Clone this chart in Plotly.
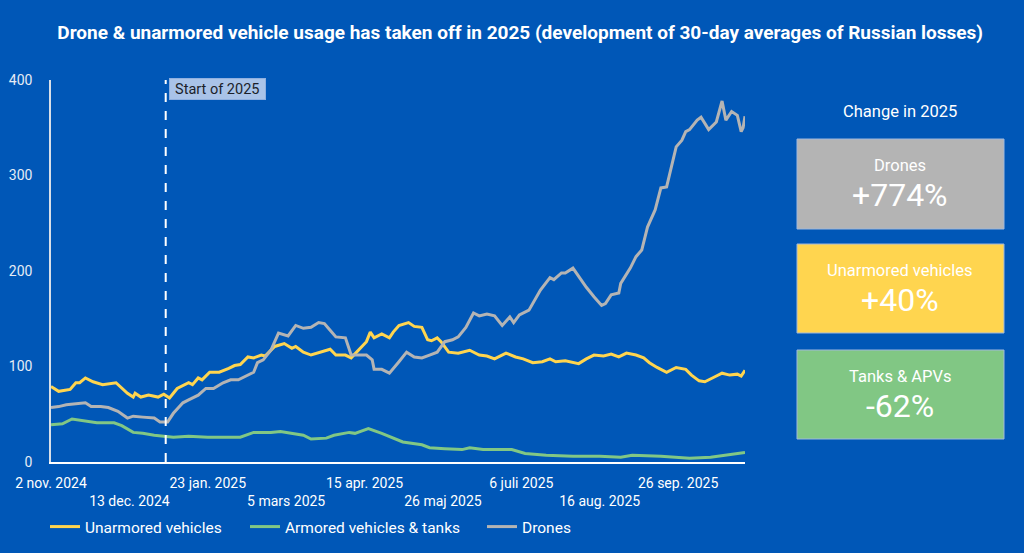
import plotly.graph_objects as go

# ---------------- data ----------------
unarmored_dates = ["2024-11-02","2024-11-06","2024-11-12","2024-11-15","2024-11-17","2024-11-20","2024-11-24","2024-11-29",
    "2024-12-06","2024-12-08","2024-12-12","2024-12-15","2024-12-16","2024-12-19","2024-12-23","2024-12-28","2024-12-31",
    "2025-01-03","2025-01-07","2025-01-13","2025-01-15","2025-01-18","2025-01-20","2025-01-24","2025-01-29",
    "2025-02-03","2025-02-06","2025-02-09","2025-02-13","2025-02-16","2025-02-20","2025-02-22","2025-02-27",
    "2025-03-04","2025-03-08","2025-03-10","2025-03-14","2025-03-18","2025-03-23","2025-03-28","2025-03-31",
    "2025-04-05","2025-04-08","2025-04-12","2025-04-16","2025-04-18","2025-04-20","2025-04-24","2025-04-28","2025-04-30",
    "2025-05-03","2025-05-08","2025-05-11","2025-05-15","2025-05-18","2025-05-20","2025-05-23","2025-05-25","2025-05-29",
    "2025-06-03","2025-06-09","2025-06-14","2025-06-18","2025-06-22","2025-06-28",
    "2025-07-03","2025-07-07","2025-07-12","2025-07-17","2025-07-21","2025-07-24","2025-07-29",
    "2025-08-02","2025-08-05","2025-08-09","2025-08-13","2025-08-18","2025-08-22","2025-08-26","2025-08-30",
    "2025-09-04","2025-09-08","2025-09-11","2025-09-15","2025-09-20","2025-09-25","2025-09-30",
    "2025-10-03","2025-10-07","2025-10-10","2025-10-15","2025-10-19","2025-10-23","2025-10-27","2025-10-29","2025-10-31"]
unarmored_values = [79,74,76,83,83,88,84,81,
    83,79,72,68,72,68,70,68,71,
    67,77,83,81,88,86,94,94,
    98,101,102,110,109,112,111,121,
    124,119,121,115,112,115,118,112,
    112,109,117,126,136,130,134,130,136,
    143,146,142,141,128,127,130,126,115,
    114,117,112,111,108,114,
    110,108,104,105,108,105,106,
    104,103,108,112,111,113,110,114,
    112,109,104,99,94,99,97,
    91,85,84,89,93,91,92,90,96]

armored_dates = ["2024-11-02","2024-11-08","2024-11-13","2024-11-19","2024-11-26","2024-12-05","2024-12-09","2024-12-15",
    "2024-12-20","2024-12-26","2025-01-02","2025-01-05","2025-01-13","2025-01-23","2025-02-03","2025-02-09","2025-02-16",
    "2025-02-25","2025-03-02","2025-03-09","2025-03-14","2025-03-18","2025-03-26","2025-03-30","2025-04-07","2025-04-10",
    "2025-04-17","2025-04-24","2025-05-05","2025-05-15","2025-05-19","2025-05-27","2025-06-05","2025-06-09","2025-06-16",
    "2025-06-24","2025-07-01","2025-07-08","2025-07-19","2025-08-02","2025-08-16","2025-08-27","2025-09-02","2025-09-17",
    "2025-10-02","2025-10-13","2025-10-20","2025-10-31"]
armored_values = [39,40,45,43,41,41,38,31,
    30,28,27,26,27,26,26,26,31,
    31,32,30,28,24,25,28,31,30,
    35,30,21,18,15,14,13,15,13,
    13,13,9,7,6,6,5,7,6,
    4,5,7,10]

drones_dates = ["2024-11-02","2024-11-06","2024-11-10","2024-11-15","2024-11-20","2024-11-23","2024-11-28","2024-12-02",
    "2024-12-07","2024-12-12","2024-12-15","2024-12-20","2024-12-26","2024-12-29","2025-01-02","2025-01-05","2025-01-10",
    "2025-01-13","2025-01-18","2025-01-22","2025-01-26","2025-01-31","2025-02-04","2025-02-08","2025-02-11","2025-02-16",
    "2025-02-18","2025-02-21","2025-02-25","2025-03-01","2025-03-06","2025-03-10","2025-03-14","2025-03-18","2025-03-22",
    "2025-03-25","2025-03-28","2025-03-31","2025-04-05","2025-04-08","2025-04-12","2025-04-16","2025-04-19","2025-04-20",
    "2025-04-24","2025-04-28","2025-05-03","2025-05-07","2025-05-11","2025-05-15","2025-05-19","2025-05-23","2025-05-27",
    "2025-05-31","2025-06-03","2025-06-07","2025-06-11","2025-06-14","2025-06-18","2025-06-22","2025-06-26","2025-06-30",
    "2025-07-02","2025-07-05","2025-07-10","2025-07-13","2025-07-16","2025-07-21","2025-07-23","2025-07-27","2025-07-29",
    "2025-08-02","2025-08-06","2025-08-09","2025-08-13","2025-08-17","2025-08-19","2025-08-22","2025-08-26","2025-08-27",
    "2025-09-01","2025-09-04","2025-09-07","2025-09-10","2025-09-14","2025-09-17","2025-09-20","2025-09-23","2025-09-25",
    "2025-09-28","2025-09-30","2025-10-02","2025-10-06","2025-10-08","2025-10-12","2025-10-16","2025-10-19","2025-10-21",
    "2025-10-24","2025-10-27","2025-10-29","2025-10-30","2025-10-31"]
drones_values = [57,58,60,61,62,58,58,57,
    53,46,48,47,46,42,42,51,62,
    65,70,77,77,83,86,86,89,94,
    104,107,117,135,132,143,140,141,146,
    145,138,131,130,112,112,112,107,97,
    97,93,105,115,110,109,112,115,126,
    128,131,141,156,153,155,153,143,152,
    146,154,159,170,180,193,191,198,198,
    203,191,183,173,164,166,175,177,187,
    203,215,222,246,264,287,288,314,330,
    337,346,348,358,361,348,356,378,358,
    367,363,346,350,362]

tick_dates = ["2024-11-02","2024-12-13","2025-01-23","2025-03-05","2025-04-15",
              "2025-05-26","2025-07-06","2025-08-16","2025-09-26"]
tick_labels = ["2 nov. 2024","13 dec. 2024","23 jan. 2025","5 mars 2025","15 apr. 2025",
               "26 maj 2025","6 juli 2025","16 aug. 2025","26 sep. 2025"]

change_labels = ["Drones", "Unarmored vehicles", "Tanks & APVs"]
change_values = ["+774%", "+40%", "-62%"]

start_2025 = "2025-01-01"
x_start, x_end = "2024-11-02", "2025-10-31"

# ---------------- style ----------------
BG = "#0057b7"
C_YEL = "#ffd54f"
C_GRN = "#81c784"
C_GRY = "#b4b4b4"
FONT = "Roboto"

W, H = 1024, 553
ML, MR, MT, MB = 51, 279, 80, 91
PW = W - ML - MR
PH = H - MT - MB

def px(xp):
    return (xp - ML) / PW

def py(yp):
    return 1 - (yp - MT) / PH

fig = go.Figure()
fig.add_trace(go.Scatter(x=unarmored_dates, y=unarmored_values, mode="lines", legend="legend",
                         name="Unarmored vehicles", line=dict(color=C_YEL, width=3)))
fig.add_trace(go.Scatter(x=armored_dates, y=armored_values, mode="lines", legend="legend2",
                         name="Armored vehicles & tanks", line=dict(color=C_GRN, width=3)))
fig.add_trace(go.Scatter(x=drones_dates, y=drones_values, mode="lines", legend="legend3",
                         name="Drones", line=dict(color=C_GRY, width=3)))

ticktext = [t if i % 2 == 0 else "<br>" + t for i, t in enumerate(tick_labels)]

def legend_at(xpix):
    return dict(orientation="h", xref="container", yref="container",
                x=xpix / W, xanchor="left", y=1 - 527 / H, yanchor="middle",
                font=dict(family=FONT, size=15.5, color="white"), bgcolor="rgba(0,0,0,0)",
                itemwidth=30)

fig.update_layout(
    width=W, height=H,
    margin=dict(l=ML, r=MR, t=MT, b=MB),
    paper_bgcolor=BG, plot_bgcolor=BG,
    font=dict(family=FONT, color="white", size=14),
    title=dict(text="<b>Drone & unarmored vehicle usage has taken off in 2025 (development of 30-day averages of Russian losses)</b>",
               x=0.508, xanchor="center", y=1 - 32 / H, yanchor="middle",
               font=dict(family=FONT, size=19, color="white")),
    showlegend=True,
    legend=legend_at(45),
    legend2=legend_at(245),
    legend3=legend_at(482),
    xaxis=dict(type="date", range=[x_start, x_end], tickvals=tick_dates, ticktext=ticktext,
               tickangle=0, automargin=False,
               showgrid=False, zeroline=False, showline=True, linecolor="white", linewidth=1.5,
               ticks="", ticklabelstandoff=7, tickfont=dict(family=FONT, size=14, color="white")),
    yaxis=dict(range=[0, 400], tickvals=[0, 100, 200, 300, 400], showgrid=False, zeroline=False,
               showline=True, linecolor="#d8dfe8", linewidth=1.5, ticks="", automargin=False,
               ticklabelstandoff=14, tickfont=dict(family=FONT, size=14, color="#e6ecf5")),
)

# Start of 2025 line + label
fig.add_shape(type="line", xref="x", yref="paper", x0=start_2025, x1=start_2025, y0=0, y1=1,
              line=dict(color="white", width=2, dash="dash"))
fig.add_annotation(x=start_2025, xref="x", y=1.0, yref="paper", xanchor="left", yanchor="top",
                   xshift=3, yshift=2, text="&nbsp;Start of 2025&nbsp;", showarrow=False,
                   bgcolor="#a9c3e8", bordercolor="#8fb0e0", borderwidth=1, borderpad=1.5,
                   font=dict(family=FONT, size=14.5, color="#1b1f2a"))

# Right panel
fig.add_annotation(x=px(900), xref="paper", y=py(111), yref="paper", text="Change in 2025",
                   showarrow=False, xanchor="center", yanchor="middle",
                   font=dict(family=FONT, size=16.5, color="white"))

boxes = [(139, 229, C_GRY), (244, 333, C_YEL), (350, 439, C_GRN)]
for (y0, y1, col), lab, val in zip(boxes, change_labels, change_values):
    fig.add_shape(type="rect", xref="paper", yref="paper", x0=px(797), x1=px(1004),
                  y0=py(y1), y1=py(y0), fillcolor=col, line=dict(color="#9fb8dc", width=1), layer="below")
    fig.add_annotation(x=px(900), xref="paper", y=py(y0 + 26), yref="paper", text=lab,
                       showarrow=False, xanchor="center", yanchor="middle",
                       font=dict(family=FONT, size=16.5, color="white"))
    fig.add_annotation(x=px(900), xref="paper", y=py(y0 + 56), yref="paper", text=val,
                       showarrow=False, xanchor="center", yanchor="middle",
                       font=dict(family=FONT, size=32, color="white"))

fig.write_html("out.html", config={"displayModeBar": False},
               post_script="document.body.style.margin='0';")
